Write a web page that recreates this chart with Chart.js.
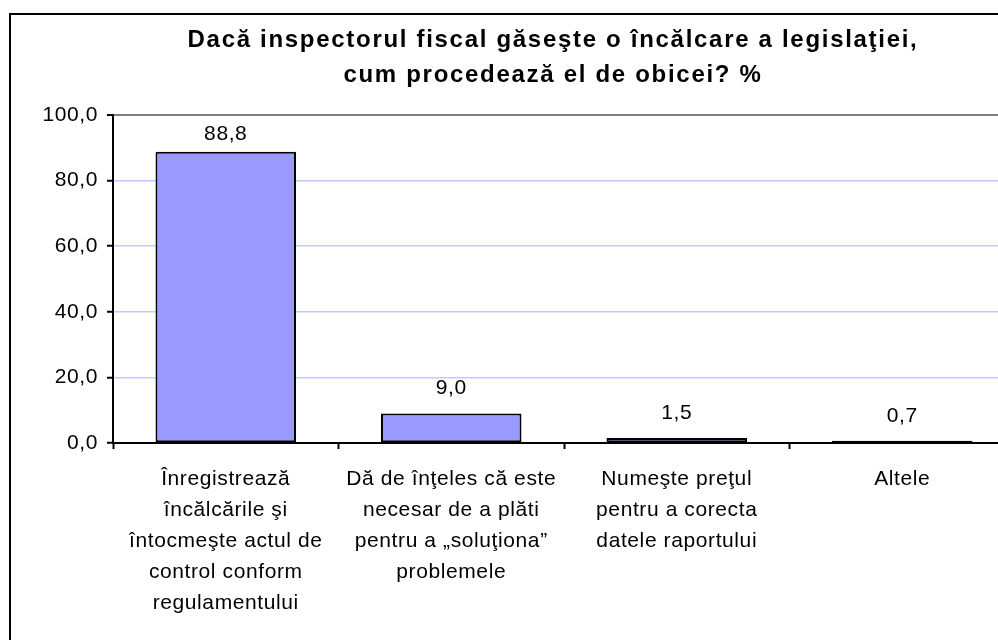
<!DOCTYPE html>
<html lang="ro">
<head>
    <meta charset="UTF-8">
    <title>Inspector fiscal</title>
    <script src="https://cdn.jsdelivr.net/npm/chart.js"></script>
    <style>
        html, body { margin: 0; padding: 0; background: #fff; overflow: hidden; }
        .frame {
            position: absolute; left: 9px; top: 13px;
            width: 1100px; height: 700px;
            border: 2.5px solid #000;
        }
        #chartBox { position: absolute; left: 0; top: 0; width: 1040px; height: 640px; }
    </style>
</head>
<body>
    <div class="frame"></div>
    <div id="chartBox">
        <canvas id="fiscalChart" width="1040" height="640"></canvas>
    </div>
<script>
    // chart data
    const titleLines = ['Dacă inspectorul fiscal găseşte o încălcare a legislaţiei,', 'cum procedează el de obicei? %'];
    const categories = [
        ['Înregistrează', 'încălcările şi', 'întocmeşte actul de', 'control conform', 'regulamentului'],
        ['Dă de înţeles că este', 'necesar de a plăti', 'pentru a „soluţiona”', 'problemele'],
        ['Numeşte preţul', 'pentru a corecta', 'datele raportului'],
        ['Altele']
    ];
    const values = [88.8, 9.0, 1.5, 0.7];
    const yMin = 0, yMax = 100, yStep = 20;

    const FONT = '"Liberation Sans", Arial, sans-serif';
    const fmt = v => Number(v).toFixed(1).replace('.', ',');

    // letter spacing for the axis text (Excel renders it wide)
    const spacing = {
        id: 'spacing',
        beforeUpdate(chart) { chart.ctx.letterSpacing = '0.6px'; },
        beforeDraw(chart) { chart.ctx.letterSpacing = '0.6px'; }
    };

    // two-line bold title
    const titlePlugin = {
        id: 'titlePlugin',
        afterDraw(chart) {
            const ctx = chart.ctx;
            ctx.save();
            ctx.letterSpacing = '1.7px';
            ctx.font = 'bold 24px ' + FONT;
            ctx.fillStyle = '#000';
            ctx.textAlign = 'center';
            ctx.textBaseline = 'alphabetic';
            ctx.fillText(titleLines[0], 553, 47);
            ctx.fillText(titleLines[1], 553, 82);
            ctx.restore();
        }
    };

    // value labels over the bars
    const valueLabels = {
        id: 'valueLabels',
        afterDatasetsDraw(chart) {
            const ctx = chart.ctx;
            const meta = chart.getDatasetMeta(0);
            ctx.save();
            ctx.font = '21px ' + FONT;
            ctx.fillStyle = '#000';
            ctx.textAlign = 'center';
            ctx.textBaseline = 'alphabetic';
            meta.data.forEach((bar, i) => {
                const y = Math.max(bar.y - 19, chart.chartArea.top + 25);
                ctx.fillText(fmt(values[i]), bar.x, y);
            });
            ctx.restore();
        }
    };

    const ctx = document.getElementById('fiscalChart').getContext('2d');
    new Chart(ctx, {
        type: 'bar',
        data: {
            labels: categories,
            datasets: [{
                data: values,
                backgroundColor: '#9999FF',
                borderColor: '#000',
                borderWidth: 2,
                borderSkipped: false,
                barPercentage: 0.623,
                categoryPercentage: 1
            }]
        },
        options: {
            responsive: false,
            animation: false,
            layout: { padding: { left: 0, top: 115, right: 25, bottom: 0 } },
            plugins: {
                legend: { display: false },
                title: { display: false },
                tooltip: { enabled: false }
            },
            scales: {
                x: {
                    offset: true,
                    afterFit(scale) { scale.height = 640 - 443; },
                    grid: {
                        offset: true,
                        drawOnChartArea: false,
                        drawTicks: true,
                        tickLength: 6,
                        tickColor: '#000',
                        tickWidth: 2
                    },
                    border: { display: true, color: '#000', width: 2 },
                    ticks: {
                        color: '#000',
                        maxRotation: 0,
                        autoSkip: false,
                        padding: 15,
                        font: { family: FONT, size: 21, lineHeight: '31px' }
                    }
                },
                y: {
                    min: yMin,
                    max: yMax,
                    afterFit(scale) { scale.width = 113; },
                    grid: {
                        color: c => c.tick && c.tick.value === yMax ? '#808080' : '#C8C8FF',
                        lineWidth: c => c.tick && c.tick.value === yMax ? 2 : 1.5,
                        drawTicks: true,
                        tickLength: 6,
                        tickColor: '#000',
                        tickWidth: 2
                    },
                    border: { display: true, color: '#000', width: 2 },
                    ticks: {
                        stepSize: yStep,
                        color: '#000',
                        padding: 9,
                        font: { family: FONT, size: 21 },
                        callback: v => fmt(v)
                    }
                }
            }
        },
        plugins: [spacing, titlePlugin, valueLabels]
    });
</script>
</body>
</html>
